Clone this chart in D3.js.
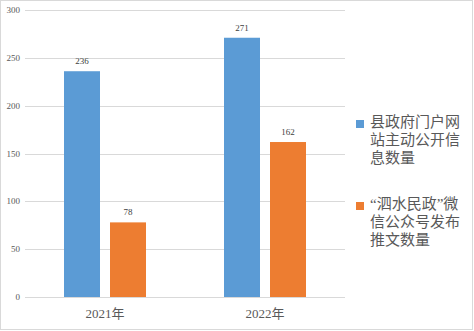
<!DOCTYPE html>
<html><head><meta charset="utf-8">
<script src="https://cdn.jsdelivr.net/npm/d3@7/dist/d3.min.js"></script>
<style>body{margin:0;background:#fff}svg{display:block}</style>
</head><body>
<svg id="c" width="474" height="331"></svg>
<script>
const categories = ["2021年", "2022年"];
const seriesNames = [["县政府门户网", "站主动公开信", "息数量"], ["“泗水民政”微", "信公众号发布", "推文数量"]];
const portalValues = [236, 271];
const wechatValues = [78, 162];
const yTicks = [0, 50, 100, 150, 200, 250, 300];
const colors = ["#5B9BD5", "#ED7D31"];

(function () {
const svg = d3.select("#c");
svg.append("rect").attr("x", 0.5).attr("y", 0.5).attr("width", 472).attr("height", 329)
  .attr("fill", "#fff").attr("stroke", "#D9D9D9");

const mLeft = 25, mRight = 345, mTop = 10, mBottom = 297;
const x = d3.scaleBand().domain(categories).range([mLeft, mRight]);
const y = d3.scaleLinear().domain([0, 300]).range([mBottom, mTop]);

svg.append("g").selectAll("line").data(yTicks).join("line")
  .attr("x1", mLeft).attr("x2", mRight)
  .attr("y1", d => Math.round(y(d)) + 0.5).attr("y2", d => Math.round(y(d)) + 0.5)
  .attr("stroke", "#D9D9D9");

svg.append("g").selectAll("text").data(yTicks).join("text")
  .attr("x", 20).attr("y", d => y(d)).attr("dy", "0.35em")
  .attr("text-anchor", "end").attr("font-family", "Liberation Serif, serif")
  .attr("font-size", 9).attr("fill", "#595959").text(d => d);

const barW = 36, gap = 10;
const series = [portalValues, wechatValues];
series.forEach((vals, si) => {
  const g = svg.append("g");
  const bx = c => x(c) + x.bandwidth() / 2 - (barW * 2 + gap) / 2 + si * (barW + gap);
  g.selectAll("rect").data(categories).join("rect")
    .attr("x", c => bx(c)).attr("width", barW)
    .attr("y", (c, i) => y(vals[i])).attr("height", (c, i) => mBottom - y(vals[i]))
    .attr("fill", colors[si]);
  g.selectAll("text").data(categories).join("text")
    .attr("x", c => bx(c) + barW / 2).attr("y", (c, i) => y(vals[i]) - 7)
    .attr("text-anchor", "middle").attr("font-family", "Liberation Serif, serif")
    .attr("font-size", 9).attr("fill", "#404040").text((c, i) => vals[i]);
});

svg.append("g").selectAll("text").data(categories).join("text")
  .attr("x", c => x(c) + x.bandwidth() / 2).attr("y", 318)
  .attr("text-anchor", "middle").attr("font-family", "Liberation Serif, Noto Sans CJK SC, serif")
  .attr("font-size", 13).attr("fill", "#595959").text(c => c);

const legY = [115, 197];
seriesNames.forEach((lines, i) => {
  const g = svg.append("g");
  g.append("rect").attr("x", 356).attr("y", legY[i] + 5).attr("width", 8).attr("height", 8).attr("fill", colors[i]);
  lines.forEach((line, j) => {
    g.append("text").attr("x", 370).attr("y", legY[i] + 12 + j * 18)
      .attr("font-family", "Liberation Serif, Noto Sans CJK SC, sans-serif").attr("font-size", 15)
      .attr("fill", "#595959").text(line);
  });
});
})();
</script>
</body></html>
